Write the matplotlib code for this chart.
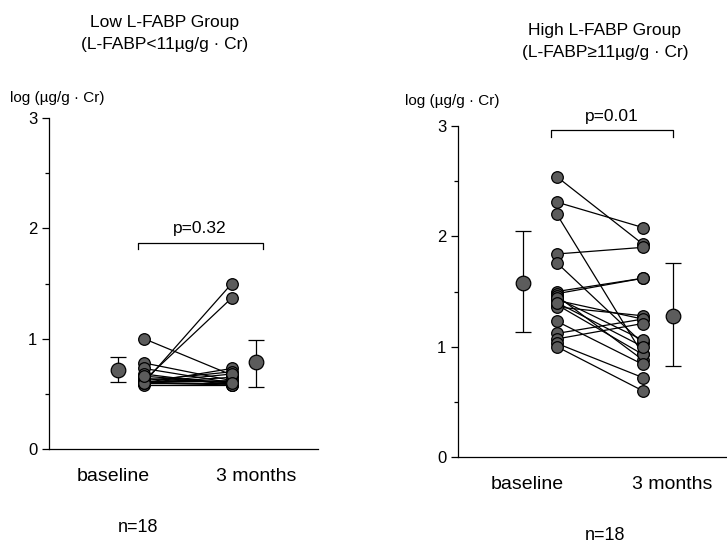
import matplotlib
matplotlib.use('Agg')
import matplotlib.pyplot as plt

plt.rcParams['font.family'] = ['Liberation Sans', 'DejaVu Sans']

# Low L-FABP group: baseline -> 3 months (log ug/g Cr)
low_base = [1.00, 0.60, 0.62, 0.78, 0.73, 0.68, 0.60, 0.62, 0.60,
            0.60, 0.60, 0.64, 0.60, 0.58, 0.60, 0.62, 0.60, 0.66]
low_3m = [0.67, 1.50, 1.37, 0.62, 0.60, 0.58, 0.73, 0.70, 0.60,
          0.60, 0.62, 0.60, 0.65, 0.58, 0.58, 0.62, 0.68, 0.60]
low_mean = [0.715, 0.79]
low_err_lo = [0.105, 0.23]
low_err_hi = [0.115, 0.20]
low_p = "p=0.32"

# High L-FABP group
high_base = [2.54, 2.31, 2.20, 1.84, 1.76, 1.50, 1.48, 1.46, 1.42,
             1.38, 1.36, 1.23, 1.12, 1.07, 1.03, 1.00, 1.44, 1.40]
high_3m = [1.93, 2.08, 0.93, 1.90, 1.03, 1.62, 1.62, 0.88, 1.25,
           0.93, 1.28, 0.84, 1.25, 1.21, 0.72, 0.60, 1.06, 1.00]
high_mean = [1.58, 1.28]
high_err_lo = [0.45, 0.455]
high_err_hi = [0.465, 0.48]
high_p = "p=0.01"

GREY = '#5c5c5c'

fig = plt.figure(figsize=(7.27, 5.44), dpi=100)

def panel(rect, base, after, mean, elo, ehi, ptxt, mean_x, xlim, lab_x, bracket_y):
    ax = fig.add_axes(rect)
    for b, a in zip(base, after):
        ax.plot([0, 1], [b, a], color='black', lw=0.9, zorder=2)
    ax.scatter([0] * len(base), base, s=70, color=GREY, edgecolor='black',
               linewidth=0.9, zorder=3)
    ax.scatter([1] * len(after), after, s=70, color=GREY, edgecolor='black',
               linewidth=0.9, zorder=3)
    ax.errorbar(mean_x, mean, yerr=[elo, ehi], fmt='o', ms=10.5, mfc=GREY,
                mec='black', mew=0.9, ecolor='black', elinewidth=0.9, capsize=6,
                capthick=0.9, zorder=3)
    # significance bracket
    x0, x1 = -0.07, 1.35
    ax.plot([x0, x0, x1, x1], [bracket_y - 0.06, bracket_y, bracket_y, bracket_y - 0.06],
            color='black', lw=0.9, clip_on=False)
    ax.text((x0 + x1) / 2, bracket_y + 0.06, ptxt, ha='center', va='bottom', fontsize=12.5)
    ax.set_xlim(*xlim)
    ax.set_ylim(0, 3)
    ax.set_yticks([0, 1, 2, 3])
    ax.set_yticks([0.5, 1.5, 2.5], minor=True)
    ax.tick_params(axis='y', labelsize=12, length=5, width=0.9)
    ax.tick_params(axis='y', which='minor', length=3, width=0.9)
    ax.set_xticks(lab_x)
    ax.set_xticklabels(['baseline', '3 months'], fontsize=14)
    ax.tick_params(axis='x', length=0, pad=14)
    for s in ['top', 'right']:
        ax.spines[s].set_visible(False)
    ax.spines['left'].set_linewidth(0.9)
    ax.spines['bottom'].set_linewidth(0.9)
    return ax

ax1 = panel([0.0674, 0.1746, 0.370, 0.6085], low_base, low_3m, low_mean,
            low_err_lo, low_err_hi, low_p, [-0.295, 1.27], (-1.08, 1.98),
            [-0.35, 1.28], 1.87)
ax2 = panel([0.630, 0.1599, 0.370, 0.6085], high_base, high_3m, high_mean,
            high_err_lo, high_err_hi, high_p, [-0.395, 1.35], (-1.15, 1.98),
            [-0.35, 1.34], 2.96)

fig.text(165 / 727, 1 - 22 / 544, "Low L-FABP Group", ha='center', va='center', fontsize=12.5)
fig.text(165 / 727, 1 - 45 / 544, "(L-FABP<11\u00b5g/g \u00b7 Cr)", ha='center', va='center', fontsize=12.5)
fig.text(605 / 727, 1 - 30 / 544, "High L-FABP Group", ha='center', va='center', fontsize=12.5)
fig.text(605 / 727, 1 - 53 / 544, "(L-FABP\u226511\u00b5g/g \u00b7 Cr)", ha='center', va='center', fontsize=12.5)
fig.text(10 / 727, 1 - 98 / 544, "log (\u00b5g/g \u00b7 Cr)", ha='left', va='center', fontsize=11)
fig.text(405 / 727, 1 - 101 / 544, "log (\u00b5g/g \u00b7 Cr)", ha='left', va='center', fontsize=11)
fig.text(138 / 727, 1 - 528 / 544, "n=18", ha='center', va='center', fontsize=13)
fig.text(605 / 727, 1 - 535 / 544, "n=18", ha='center', va='center', fontsize=13)

fig.savefig('out.png', dpi=100)
